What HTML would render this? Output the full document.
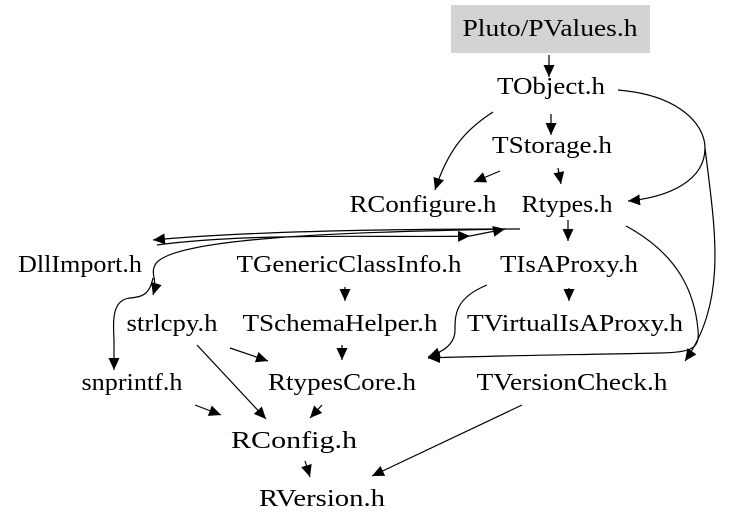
<!DOCTYPE html>
<html><head><meta charset="utf-8"><style>
html,body{margin:0;padding:0;background:#fff;}
svg{display:block;}
text{font-family:"Liberation Serif",serif;font-size:24px;fill:#000;text-anchor:middle;}
path,line{stroke:#000;stroke-width:1.2;fill:none;}
</style></head><body>
<svg width="732" height="528" viewBox="0 0 732 528" xmlns="http://www.w3.org/2000/svg">
<defs>
<marker id="a" markerUnits="userSpaceOnUse" markerWidth="13" markerHeight="11" refX="12" refY="5.5" orient="auto" viewBox="0 0 13 11">
<polygon points="0,0 12,5.5 0,11" fill="#000"/></marker>
</defs>
<rect x="451" y="5" width="199" height="48" fill="#d3d3d3"/>
<text x="550" y="36" textLength="175" lengthAdjust="spacingAndGlyphs">Pluto/PValues.h</text>
<text x="551" y="94" textLength="108" lengthAdjust="spacingAndGlyphs">TObject.h</text>
<text x="552" y="153" textLength="120" lengthAdjust="spacingAndGlyphs">TStorage.h</text>
<text x="423" y="212" textLength="147" lengthAdjust="spacingAndGlyphs">RConfigure.h</text>
<text x="567" y="212" textLength="91" lengthAdjust="spacingAndGlyphs">Rtypes.h</text>
<text x="80" y="272" textLength="124" lengthAdjust="spacingAndGlyphs">DllImport.h</text>
<text x="349" y="272" textLength="225" lengthAdjust="spacingAndGlyphs">TGenericClassInfo.h</text>
<text x="569" y="272" textLength="138" lengthAdjust="spacingAndGlyphs">TIsAProxy.h</text>
<text x="172" y="331" textLength="91" lengthAdjust="spacingAndGlyphs">strlcpy.h</text>
<text x="340" y="331" textLength="195" lengthAdjust="spacingAndGlyphs">TSchemaHelper.h</text>
<text x="575" y="331" textLength="216" lengthAdjust="spacingAndGlyphs">TVirtualIsAProxy.h</text>
<text x="132" y="390" textLength="101" lengthAdjust="spacingAndGlyphs">snprintf.h</text>
<text x="342" y="390" textLength="148" lengthAdjust="spacingAndGlyphs">RtypesCore.h</text>
<text x="572" y="390" textLength="191" lengthAdjust="spacingAndGlyphs">TVersionCheck.h</text>
<text x="294" y="448" textLength="126" lengthAdjust="spacingAndGlyphs">RConfig.h</text>
<text x="322" y="506" textLength="126" lengthAdjust="spacingAndGlyphs">RVersion.h</text>

<line x1="549" y1="55" x2="549" y2="77" marker-end="url(#a)"/>
<line x1="551" y1="114" x2="551" y2="135" marker-end="url(#a)"/>
<path d="M493,112 C465,130 448,150 435,190" marker-end="url(#a)"/>
<path d="M618,90 C680,95 705,125 705,148 C705,180 670,197 628,201" marker-end="url(#a)"/>
<path d="M705,148 C715,230 728,300 685,361" marker-end="url(#a)"/>
<line x1="500" y1="171" x2="474" y2="182" marker-end="url(#a)"/>
<line x1="558" y1="168" x2="561" y2="184" marker-end="url(#a)"/>
<path d="M520,229 C420,229 260,230 153,240" marker-end="url(#a)"/>
<path d="M157,245 C250,232 400,238 470,236" marker-end="url(#a)"/>
<path d="M470,236 C480,234 490,232 505,229" marker-end="url(#a)"/>
<path d="M505,229 C380,232 170,235 155,265 C150,275 158,278 153,295" marker-end="url(#a)"/>
<path d="M153,278 C150,292 145,297 130,298 C112,300 113,320 114,340 C114,352 114,358 114,370" marker-end="url(#a)"/>
<line x1="568" y1="220" x2="568" y2="241" marker-end="url(#a)"/>
<path d="M626,226 C680,255 695,295 698,330 C700,350 690,352 660,353 C560,355 480,356 428,358" marker-end="url(#a)"/>
<path d="M487,285 C455,298 455,315 455,330 C455,345 442,352 428,357" marker-end="url(#a)"/>
<line x1="569" y1="288" x2="569" y2="301" marker-end="url(#a)"/>
<line x1="345" y1="287" x2="345" y2="301" marker-end="url(#a)"/>
<line x1="342" y1="345" x2="342" y2="360" marker-end="url(#a)"/>
<line x1="230" y1="348" x2="268" y2="361" marker-end="url(#a)"/>
<line x1="197" y1="345" x2="266" y2="419" marker-end="url(#a)"/>
<line x1="195" y1="405" x2="221" y2="415" marker-end="url(#a)"/>
<line x1="322" y1="405" x2="310" y2="418" marker-end="url(#a)"/>
<line x1="305" y1="461" x2="310" y2="477" marker-end="url(#a)"/>
<line x1="522" y1="405" x2="372" y2="476" marker-end="url(#a)"/>
</svg>
</body></html>
